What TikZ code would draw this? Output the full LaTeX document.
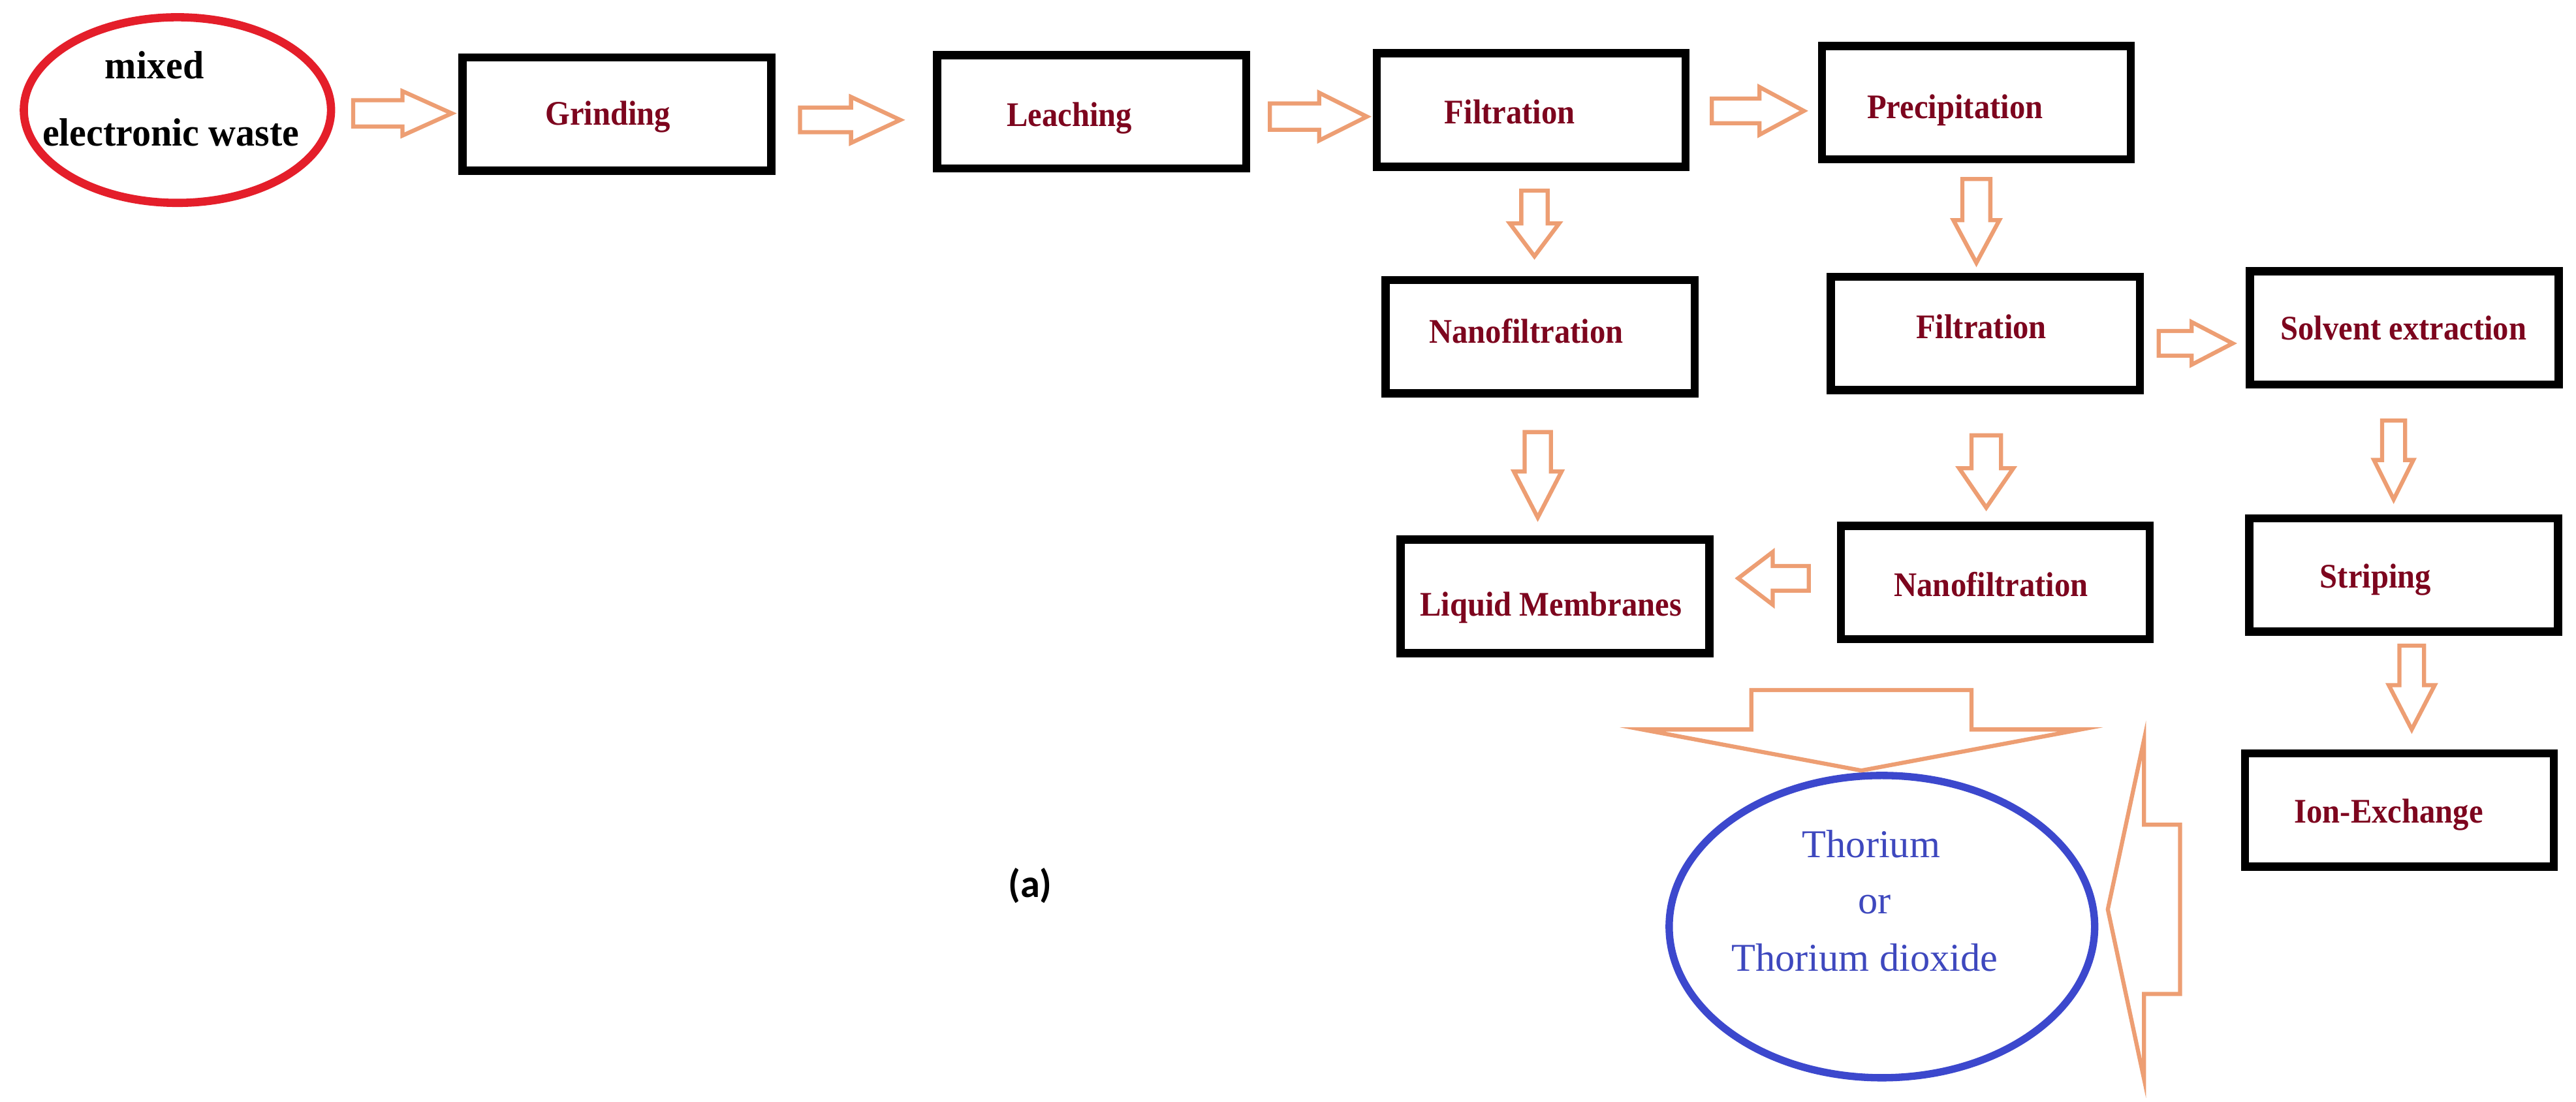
\documentclass[tikz,border=0pt]{standalone}
\usepackage{fontspec}
\usepackage{graphicx}
\setmainfont{Liberation Serif}
\newfontfamily\labfont{Carlito}
\usetikzlibrary{calc,shapes.geometric}
\definecolor{arrowor}{RGB}{237,158,115}
\definecolor{maroontx}{RGB}{125,5,30}
\definecolor{redring}{RGB}{228,30,42}
\definecolor{bluering}{RGB}{60,72,205}
\definecolor{bluetext}{RGB}{62,72,190}
\newcommand\cnd[1]{\scalebox{0.92}[1]{#1}}
\newcommand\cnb[1]{\scalebox{0.96}[1]{#1}}
\tikzset{
  stepbox/.style={draw=black, line width=5pt, fill=white, minimum width=188pt, minimum height=69pt, inner sep=0pt},
  steptext/.style={text=maroontx, font=\fontsize{21}{25}\selectfont\bfseries, inner sep=0pt, anchor=base},
  bigtext/.style={font=\fontsize{24}{28}\selectfont, inner sep=0pt, anchor=base},
  blockarrow/.style={draw=arrowor, line width=2.5pt, fill=white, line join=miter, miter limit=25},
}
\newcommand\blockarr[5]{%
  \coordinate (bam) at ($(#2)!#5!(#1)$);
  \draw[blockarrow] ($(#1)!#3!90:(#2)$) -- ($(bam)!#3!90:(#2)$) -- ($(bam)!#4!90:(#2)$) -- (#2)
    -- ($(bam)!#4!-90:(#2)$) -- ($(bam)!#3!-90:(#2)$) -- ($(#1)!#3!-90:(#2)$) -- cycle;
}
\begin{document}
\begin{tikzpicture}[x=1pt,y=-1pt]
\useasboundingbox[fill=white] (0,0) rectangle (1568,670.7);

% start ellipse
\node[ellipse, draw=redring, line width=5pt, minimum width=187pt, minimum height=113pt, inner sep=0pt] (ew) at (108,67) {};
\node[bigtext, font=\fontsize{24}{28}\selectfont\bfseries] (ewT1) at (94,48) {\cnb{mixed}};
\node[bigtext, font=\fontsize{24}{28}\selectfont\bfseries] (ewT2) at (104,89) {\cnb{electronic waste}};

% process boxes
\node[stepbox] (grind) at (375.5,69.5) {};
\node[steptext] (grindT) at (370,76) {\cnd{Grinding}};
\node[stepbox] (leach) at (664.5,68) {};
\node[steptext] (leachT) at (651,77) {\cnd{Leaching}};
\node[stepbox] (filtA) at (932,67) {};
\node[steptext] (filtAT) at (919,75.5) {\cnd{Filtration}};
\node[stepbox] (prec) at (1203,62.5) {};
\node[steptext] (precT) at (1190,72) {\cnd{Precipitation}};
\node[stepbox] (nanoA) at (937.5,205) {};
\node[steptext] (nanoAT) at (929,209) {\cnd{Nanofiltration}};
\node[stepbox] (filtB) at (1208.5,203) {};
\node[steptext] (filtBT) at (1206,206) {\cnd{Filtration}};
\node[stepbox] (solv) at (1463.5,199.5) {};
\node[steptext] (solvT) at (1463,207) {\cnd{Solvent extraction}};
\node[stepbox] (liq) at (946.5,363) {};
\node[steptext] (liqT) at (944,375) {\cnd{Liquid Membranes}};
\node[stepbox] (nanoB) at (1214.5,354.5) {};
\node[steptext] (nanoBT) at (1212,363) {\cnd{Nanofiltration}};
\node[stepbox] (strip) at (1463,350) {};
\node[steptext] (stripT) at (1446,358) {\cnd{Striping}};
\node[stepbox] (ion) at (1460.5,493) {};
\node[steptext] (ionT) at (1454,501) {\cnd{Ion-Exchange}};

% result ellipse
\node[ellipse, draw=bluering, line width=4.5pt, minimum width=259pt, minimum height=184pt, inner sep=0pt] (tho) at (1145.5,564) {};
\node[bigtext, text=bluetext] (thoT1) at (1139,522) {Thorium};
\node[bigtext, text=bluetext] (thoT2) at (1141,556) {or};
\node[bigtext, text=bluetext] (thoT3) at (1135,591) {Thorium dioxide};

% label
\node[font=\labfont\bfseries\fontsize{24}{28}\selectfont, inner sep=0pt, anchor=base] (lab) at (627,546) {(a)};

% block arrows
\coordinate (a1s) at (215,69); \coordinate (a1e) at (275,69);
\blockarr{a1s}{a1e}{8pt}{13.5pt}{30pt}
\coordinate (a2s) at (487,73); \coordinate (a2e) at (548,73);
\blockarr{a2s}{a2e}{7.5pt}{14pt}{30pt}
\coordinate (a3s) at (773,71); \coordinate (a3e) at (832,71);
\blockarr{a3s}{a3e}{8pt}{14.5pt}{29pt}
\coordinate (a4s) at (1042,67.5); \coordinate (a4e) at (1098,67.5);
\blockarr{a4s}{a4e}{7.5pt}{14.5pt}{27pt}
\coordinate (a5s) at (934,116); \coordinate (a5e) at (934,156);
\blockarr{a5s}{a5e}{8pt}{15pt}{20pt}
\coordinate (a6s) at (1203,109); \coordinate (a6e) at (1203,160);
\blockarr{a6s}{a6e}{8.5pt}{14pt}{26pt}
\coordinate (a7s) at (1314,209); \coordinate (a7e) at (1359,209);
\blockarr{a7s}{a7e}{7.5pt}{13pt}{25pt}
\coordinate (a8s) at (936,263); \coordinate (a8e) at (936,315);
\blockarr{a8s}{a8e}{8pt}{14.5pt}{28pt}
\coordinate (a9s) at (1209,265); \coordinate (a9e) at (1209,309);
\blockarr{a9s}{a9e}{9pt}{16.5pt}{24pt}
\coordinate (a10s) at (1457,256); \coordinate (a10e) at (1457,304);
\blockarr{a10s}{a10e}{7pt}{12pt}{24pt}
\coordinate (a11s) at (1101,352); \coordinate (a11e) at (1058,352);
\blockarr{a11s}{a11e}{7.5pt}{16pt}{21pt}
\coordinate (a12s) at (1468,393); \coordinate (a12e) at (1468,444);
\blockarr{a12s}{a12e}{7.5pt}{14pt}{27pt}
\coordinate (a13s) at (1133,420); \coordinate (a13e) at (1133,469);
\blockarr{a13s}{a13e}{67pt}{133.5pt}{25pt}
\coordinate (a14s) at (1327,553.5); \coordinate (a14e) at (1283,553.5);
\blockarr{a14s}{a14e}{51.5pt}{103pt}{22pt}
\end{tikzpicture}
\end{document}
